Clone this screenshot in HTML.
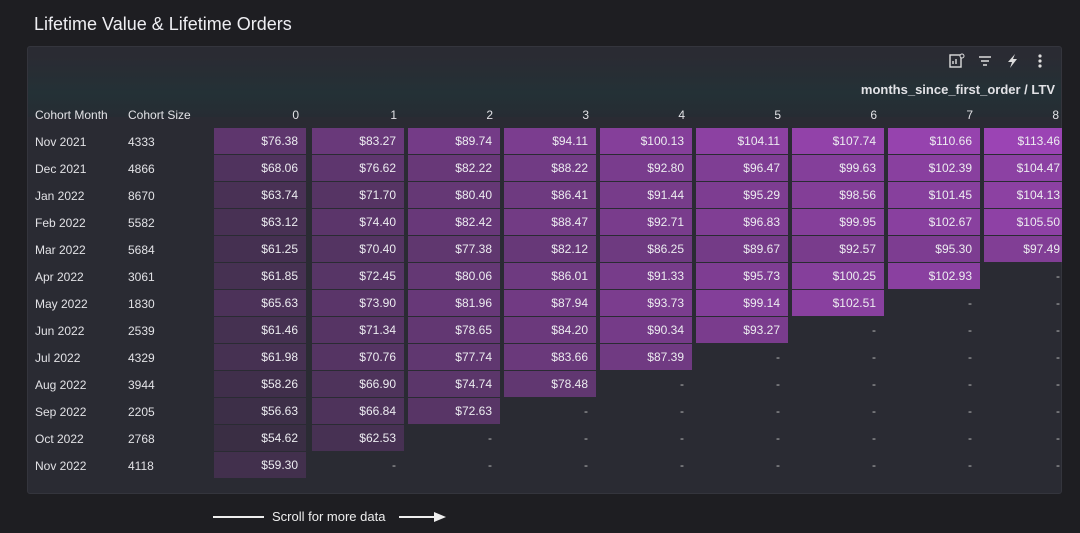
<!DOCTYPE html>
<html><head><meta charset="utf-8"><style>
*{margin:0;padding:0;box-sizing:border-box}
body{width:1080px;height:533px;background:#1e1e22;font-family:"Liberation Sans",sans-serif;color:#e6e6ea;position:relative;overflow:hidden}
.t{position:absolute;left:34px;top:14px;font-size:18px;color:#eeeef2}
.p{position:absolute;left:27px;top:46px;width:1035px;height:448px;background:#2a2b33;border:1px solid #34353d;border-radius:3px;overflow:hidden}
.g{position:absolute;left:0;top:10px;width:100%;height:60px;background:linear-gradient(180deg,#2a2b33 0%,#243136 60%,#262c33 100%)}
.a{position:absolute;font-size:12px;color:#e2e2e6;white-space:nowrap}
.h{position:absolute;font-size:12px;color:#e2e2e6;text-align:right;width:92px;top:61px}
.c{position:absolute;width:92px;height:26px;font-size:12px;line-height:26px;text-align:right;padding-right:8px;color:#ececf0;background:rgb(calc(58 + (var(--v) - 54.62)*1.65),calc(46 + (var(--v) - 54.62)*0.374),calc(68 + (var(--v) - 54.62)*1.9))}
.d{position:absolute;width:92px;height:26px;font-size:12px;line-height:26px;text-align:right;padding-right:8px;color:#bbb}
.w{width:78px!important;padding-right:2px}
</style></head><body>
<div class="t">Lifetime Value &amp; Lifetime Orders</div>
<div class="p">
<div class="g"></div>
<svg style="position:absolute;left:921px;top:6px" width="100" height="16"><rect x="1" y="2" width="11" height="12" fill="none" stroke="#ddd" stroke-width="1.4"/><line x1="4" y1="11" x2="4" y2="8" stroke="#ddd" stroke-width="1.4"/><line x1="7" y1="11" x2="7" y2="6" stroke="#ddd" stroke-width="1.4"/><circle cx="13" cy="3" r="2" fill="#2a2b33" stroke="#ddd"/><line x1="30" y1="4" x2="42" y2="4" stroke="#ddd" stroke-width="1.5"/><line x1="32" y1="8" x2="40" y2="8" stroke="#ddd" stroke-width="1.5"/><line x1="34" y1="12" x2="38" y2="12" stroke="#ddd" stroke-width="1.5"/><polygon points="66,1 59,9 63,9 61,15 68,6 64,6" fill="#ddd"/><circle cx="91" cy="3" r="1.6" fill="#ddd"/><circle cx="91" cy="8" r="1.6" fill="#ddd"/><circle cx="91" cy="13" r="1.6" fill="#ddd"/></svg>
<div class="a" style="right:6px;top:35px;font-size:13px;font-weight:bold">months_since_first_order / LTV</div>
<div class="a" style="left:7px;top:61px">Cohort Month</div>
<div class="a" style="left:100px;top:61px">Cohort Size</div>
<div class="h" style="left:179px">0</div><div class="h" style="left:277px">1</div><div class="h" style="left:373px">2</div><div class="h" style="left:469px">3</div><div class="h" style="left:565px">4</div><div class="h" style="left:661px">5</div><div class="h" style="left:757px">6</div><div class="h" style="left:853px">7</div><div class="h" style="left:939px">8</div>
</div>
<div style="position:absolute;left:0;top:0">
<div class="a" style="left:35px;top:135px">Nov 2021</div><div class="a" style="left:128px;top:135px">4333</div>
<div class="a" style="left:35px;top:162px">Dec 2021</div><div class="a" style="left:128px;top:162px">4866</div>
<div class="a" style="left:35px;top:189px">Jan 2022</div><div class="a" style="left:128px;top:189px">8670</div>
<div class="a" style="left:35px;top:216px">Feb 2022</div><div class="a" style="left:128px;top:216px">5582</div>
<div class="a" style="left:35px;top:243px">Mar 2022</div><div class="a" style="left:128px;top:243px">5684</div>
<div class="a" style="left:35px;top:270px">Apr 2022</div><div class="a" style="left:128px;top:270px">3061</div>
<div class="a" style="left:35px;top:297px">May 2022</div><div class="a" style="left:128px;top:297px">1830</div>
<div class="a" style="left:35px;top:324px">Jun 2022</div><div class="a" style="left:128px;top:324px">2539</div>
<div class="a" style="left:35px;top:351px">Jul 2022</div><div class="a" style="left:128px;top:351px">4329</div>
<div class="a" style="left:35px;top:378px">Aug 2022</div><div class="a" style="left:128px;top:378px">3944</div>
<div class="a" style="left:35px;top:405px">Sep 2022</div><div class="a" style="left:128px;top:405px">2205</div>
<div class="a" style="left:35px;top:432px">Oct 2022</div><div class="a" style="left:128px;top:432px">2768</div>
<div class="a" style="left:35px;top:459px">Nov 2022</div><div class="a" style="left:128px;top:459px">4118</div>
</div>
<div style="position:absolute;left:0;top:0;width:1062px;height:533px;overflow:hidden">
<div class="c" style="left:214px;top:128px;--v:76.38">$76.38</div><div class="c" style="left:312px;top:128px;--v:83.27">$83.27</div><div class="c" style="left:408px;top:128px;--v:89.74">$89.74</div><div class="c" style="left:504px;top:128px;--v:94.11">$94.11</div><div class="c" style="left:600px;top:128px;--v:100.13">$100.13</div><div class="c" style="left:696px;top:128px;--v:104.11">$104.11</div><div class="c" style="left:792px;top:128px;--v:107.74">$107.74</div><div class="c" style="left:888px;top:128px;--v:110.66">$110.66</div><div class="c w" style="left:984px;top:128px;--v:113.46">$113.46</div>
<div class="c" style="left:214px;top:155px;--v:68.06">$68.06</div><div class="c" style="left:312px;top:155px;--v:76.62">$76.62</div><div class="c" style="left:408px;top:155px;--v:82.22">$82.22</div><div class="c" style="left:504px;top:155px;--v:88.22">$88.22</div><div class="c" style="left:600px;top:155px;--v:92.80">$92.80</div><div class="c" style="left:696px;top:155px;--v:96.47">$96.47</div><div class="c" style="left:792px;top:155px;--v:99.63">$99.63</div><div class="c" style="left:888px;top:155px;--v:102.39">$102.39</div><div class="c w" style="left:984px;top:155px;--v:104.47">$104.47</div>
<div class="c" style="left:214px;top:182px;--v:63.74">$63.74</div><div class="c" style="left:312px;top:182px;--v:71.70">$71.70</div><div class="c" style="left:408px;top:182px;--v:80.40">$80.40</div><div class="c" style="left:504px;top:182px;--v:86.41">$86.41</div><div class="c" style="left:600px;top:182px;--v:91.44">$91.44</div><div class="c" style="left:696px;top:182px;--v:95.29">$95.29</div><div class="c" style="left:792px;top:182px;--v:98.56">$98.56</div><div class="c" style="left:888px;top:182px;--v:101.45">$101.45</div><div class="c w" style="left:984px;top:182px;--v:104.13">$104.13</div>
<div class="c" style="left:214px;top:209px;--v:63.12">$63.12</div><div class="c" style="left:312px;top:209px;--v:74.40">$74.40</div><div class="c" style="left:408px;top:209px;--v:82.42">$82.42</div><div class="c" style="left:504px;top:209px;--v:88.47">$88.47</div><div class="c" style="left:600px;top:209px;--v:92.71">$92.71</div><div class="c" style="left:696px;top:209px;--v:96.83">$96.83</div><div class="c" style="left:792px;top:209px;--v:99.95">$99.95</div><div class="c" style="left:888px;top:209px;--v:102.67">$102.67</div><div class="c w" style="left:984px;top:209px;--v:105.50">$105.50</div>
<div class="c" style="left:214px;top:236px;--v:61.25">$61.25</div><div class="c" style="left:312px;top:236px;--v:70.40">$70.40</div><div class="c" style="left:408px;top:236px;--v:77.38">$77.38</div><div class="c" style="left:504px;top:236px;--v:82.12">$82.12</div><div class="c" style="left:600px;top:236px;--v:86.25">$86.25</div><div class="c" style="left:696px;top:236px;--v:89.67">$89.67</div><div class="c" style="left:792px;top:236px;--v:92.57">$92.57</div><div class="c" style="left:888px;top:236px;--v:95.30">$95.30</div><div class="c w" style="left:984px;top:236px;--v:97.49">$97.49</div>
<div class="c" style="left:214px;top:263px;--v:61.85">$61.85</div><div class="c" style="left:312px;top:263px;--v:72.45">$72.45</div><div class="c" style="left:408px;top:263px;--v:80.06">$80.06</div><div class="c" style="left:504px;top:263px;--v:86.01">$86.01</div><div class="c" style="left:600px;top:263px;--v:91.33">$91.33</div><div class="c" style="left:696px;top:263px;--v:95.73">$95.73</div><div class="c" style="left:792px;top:263px;--v:100.25">$100.25</div><div class="c" style="left:888px;top:263px;--v:102.93">$102.93</div><div class="d w" style="left:984px;top:263px">-</div>
<div class="c" style="left:214px;top:290px;--v:65.63">$65.63</div><div class="c" style="left:312px;top:290px;--v:73.90">$73.90</div><div class="c" style="left:408px;top:290px;--v:81.96">$81.96</div><div class="c" style="left:504px;top:290px;--v:87.94">$87.94</div><div class="c" style="left:600px;top:290px;--v:93.73">$93.73</div><div class="c" style="left:696px;top:290px;--v:99.14">$99.14</div><div class="c" style="left:792px;top:290px;--v:102.51">$102.51</div><div class="d" style="left:888px;top:290px">-</div><div class="d w" style="left:984px;top:290px">-</div>
<div class="c" style="left:214px;top:317px;--v:61.46">$61.46</div><div class="c" style="left:312px;top:317px;--v:71.34">$71.34</div><div class="c" style="left:408px;top:317px;--v:78.65">$78.65</div><div class="c" style="left:504px;top:317px;--v:84.20">$84.20</div><div class="c" style="left:600px;top:317px;--v:90.34">$90.34</div><div class="c" style="left:696px;top:317px;--v:93.27">$93.27</div><div class="d" style="left:792px;top:317px">-</div><div class="d" style="left:888px;top:317px">-</div><div class="d w" style="left:984px;top:317px">-</div>
<div class="c" style="left:214px;top:344px;--v:61.98">$61.98</div><div class="c" style="left:312px;top:344px;--v:70.76">$70.76</div><div class="c" style="left:408px;top:344px;--v:77.74">$77.74</div><div class="c" style="left:504px;top:344px;--v:83.66">$83.66</div><div class="c" style="left:600px;top:344px;--v:87.39">$87.39</div><div class="d" style="left:696px;top:344px">-</div><div class="d" style="left:792px;top:344px">-</div><div class="d" style="left:888px;top:344px">-</div><div class="d w" style="left:984px;top:344px">-</div>
<div class="c" style="left:214px;top:371px;--v:58.26">$58.26</div><div class="c" style="left:312px;top:371px;--v:66.90">$66.90</div><div class="c" style="left:408px;top:371px;--v:74.74">$74.74</div><div class="c" style="left:504px;top:371px;--v:78.48">$78.48</div><div class="d" style="left:600px;top:371px">-</div><div class="d" style="left:696px;top:371px">-</div><div class="d" style="left:792px;top:371px">-</div><div class="d" style="left:888px;top:371px">-</div><div class="d w" style="left:984px;top:371px">-</div>
<div class="c" style="left:214px;top:398px;--v:56.63">$56.63</div><div class="c" style="left:312px;top:398px;--v:66.84">$66.84</div><div class="c" style="left:408px;top:398px;--v:72.63">$72.63</div><div class="d" style="left:504px;top:398px">-</div><div class="d" style="left:600px;top:398px">-</div><div class="d" style="left:696px;top:398px">-</div><div class="d" style="left:792px;top:398px">-</div><div class="d" style="left:888px;top:398px">-</div><div class="d w" style="left:984px;top:398px">-</div>
<div class="c" style="left:214px;top:425px;--v:54.62">$54.62</div><div class="c" style="left:312px;top:425px;--v:62.53">$62.53</div><div class="d" style="left:408px;top:425px">-</div><div class="d" style="left:504px;top:425px">-</div><div class="d" style="left:600px;top:425px">-</div><div class="d" style="left:696px;top:425px">-</div><div class="d" style="left:792px;top:425px">-</div><div class="d" style="left:888px;top:425px">-</div><div class="d w" style="left:984px;top:425px">-</div>
<div class="c" style="left:214px;top:452px;--v:59.30">$59.30</div><div class="d" style="left:312px;top:452px">-</div><div class="d" style="left:408px;top:452px">-</div><div class="d" style="left:504px;top:452px">-</div><div class="d" style="left:600px;top:452px">-</div><div class="d" style="left:696px;top:452px">-</div><div class="d" style="left:792px;top:452px">-</div><div class="d" style="left:888px;top:452px">-</div><div class="d w" style="left:984px;top:452px">-</div>
</div>
<div style="position:absolute;left:213px;top:516px;width:51px;height:2px;background:#eee"></div>
<div class="a" style="left:272px;top:509px;font-size:13px;color:#eee">Scroll for more data</div>
<div style="position:absolute;left:399px;top:516px;width:36px;height:2px;background:#eee"></div>
<div style="position:absolute;left:434px;top:512px;width:0;height:0;border-left:12px solid #eee;border-top:5px solid transparent;border-bottom:5px solid transparent"></div>
</body></html>
